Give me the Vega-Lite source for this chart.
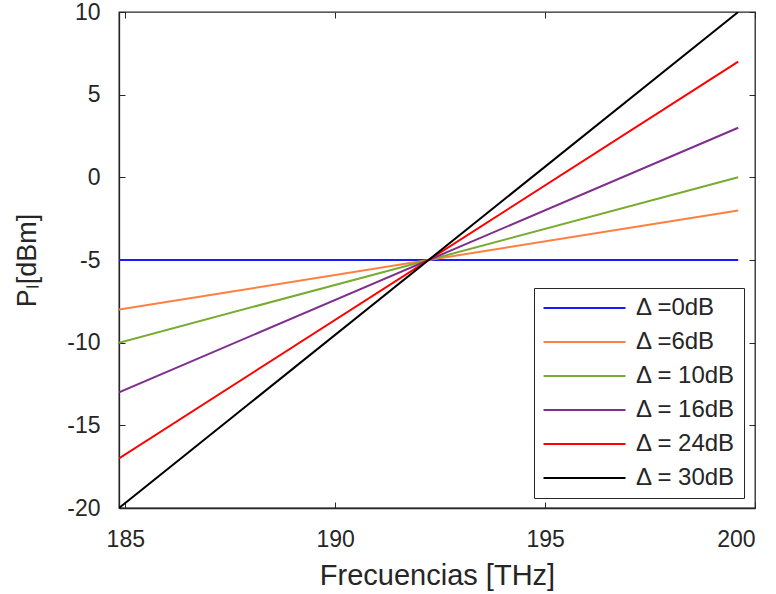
{
  "$schema": "https://vega.github.io/schema/vega-lite/v6.json",
  "width": 636,
  "height": 496,
  "autosize": {"type": "none"},
  "padding": {"left": 119, "top": 12, "right": 21, "bottom": 86},
  "config": {
    "font": "Liberation Sans",
    "view": {"stroke": "#262626", "strokeWidth": 1.3},
    "axis": {
      "labelFont": "Liberation Sans",
      "titleFont": "Liberation Sans",
      "labelColor": "#262626",
      "titleColor": "#262626",
      "labelFontSize": 23,
      "titleFontSize": 29,
      "titleFontWeight": "normal",
      "gridColor": "#dcdcdc",
      "gridWidth": 1,
      "tickColor": "#262626",
      "tickSize": -6,
      "domainColor": "#262626",
      "domainWidth": 1.3
    }
  },
  "data": {
    "values": [
      {"f": 184.85, "p": -5, "d": "Δ =0dB"},
      {"f": 199.6, "p": -5, "d": "Δ =0dB"},
      {"f": 184.85, "p": -8, "d": "Δ =6dB"},
      {"f": 199.6, "p": -2, "d": "Δ =6dB"},
      {"f": 184.85, "p": -10, "d": "Δ = 10dB"},
      {"f": 199.6, "p": 0, "d": "Δ = 10dB"},
      {"f": 184.85, "p": -13, "d": "Δ = 16dB"},
      {"f": 199.6, "p": 3, "d": "Δ = 16dB"},
      {"f": 184.85, "p": -17, "d": "Δ = 24dB"},
      {"f": 199.6, "p": 7, "d": "Δ = 24dB"},
      {"f": 184.85, "p": -20, "d": "Δ = 30dB"},
      {"f": 199.6, "p": 10, "d": "Δ = 30dB"}
    ]
  },
  "layer": [
    {
      "mark": {"type": "line", "strokeWidth": 2, "opacity": 0},
      "encoding": {
        "x": {
          "field": "f",
          "type": "quantitative",
          "scale": {"domain": [184.85, 200], "nice": false, "zero": false},
          "axis": {"orient": "top", "values": [185, 190, 195, 200], "labels": false, "grid": false, "domain": false, "title": null}
        },
        "y": {
          "field": "p",
          "type": "quantitative",
          "scale": {"domain": [-20, 10], "nice": false},
          "axis": {"orient": "right", "values": [-20, -15, -10, -5, 0, 5, 10], "labels": false, "grid": false, "domain": false, "title": null}
        },
        "detail": {"field": "d", "type": "nominal"}
      }
    },
    {
      "mark": {"type": "line", "strokeWidth": 2, "clip": true},
      "encoding": {
        "x": {
          "field": "f",
          "type": "quantitative",
          "scale": {"domain": [184.85, 200], "nice": false, "zero": false},
          "axis": {
            "orient": "bottom",
            "values": [185, 190, 195, 200],
            "title": "Frecuencias [THz]",
            "labelPadding": 26,
            "titlePadding": 10
          }
        },
        "y": {
          "field": "p",
          "type": "quantitative",
          "scale": {"domain": [-20, 10], "nice": false},
          "axis": {
            "orient": "left",
            "values": [-20, -15, -10, -5, 0, 5, 10],
            "title": "Pₗ[dBm]",
            "titleFontSize": 27,
            "labelPadding": 25,
            "titlePadding": 25,
            "labelExpr": "datum.value < 0 ? '-' + abs(datum.value) : '' + datum.value"
          }
        },
        "color": {
          "field": "d",
          "type": "nominal",
          "scale": {
            "domain": ["Δ =0dB", "Δ =6dB", "Δ = 10dB", "Δ = 16dB", "Δ = 24dB", "Δ = 30dB"],
            "range": ["#1a1aff", "#ff7f40", "#77ac30", "#7e2f8e", "#ff0000", "#000000"]
          },
          "legend": {
            "title": null,
            "orient": "none",
            "legendX": 415,
            "legendY": 276,
            "symbolType": "M-4.1,0H4.1",
            "symbolSize": 400,
            "symbolOffset": 30.5,
            "symbolStrokeWidth": 2,
            "labelOffset": 39.5,
            "labelFontSize": 24,
            "labelColor": "#262626",
            "labelFont": "Liberation Sans",
            "strokeColor": "#262626",
            "fillColor": "white",
            "padding": 8,
            "rowPadding": 10
          }
        }
      }
    }
  ],
  "resolve": {"axis": {"x": "independent", "y": "independent"}}
}
